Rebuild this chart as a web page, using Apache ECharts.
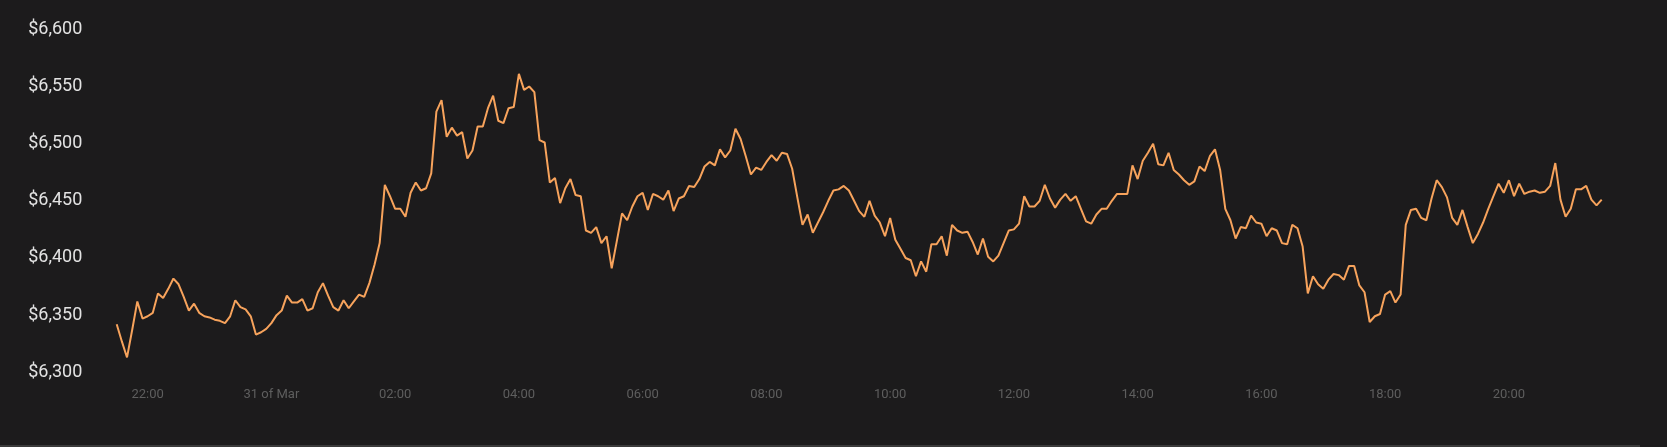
<!DOCTYPE html>
<html>
<head>
<meta charset="utf-8">
<script src="https://cdn.jsdelivr.net/npm/echarts@6/dist/echarts.min.js"></script>
<style>
html,body{margin:0;padding:0;background:#1c1b1c;}
#c{width:1667px;height:447px;}
</style>
</head>
<body>
<div id="c"></div>
<script>
// Start time: 30 Mar 21:30, expressed as hours since 30 Mar 00:00; step 5 minutes
var startHour = 21.5;
var stepMinutes = 5;

var prices = [
6342,6327,6313,6337,6362,6347,6349,6352,6369,6365,
6373,6382,6377,6366,6354,6360,6352,6349,6348,6346,
6345,6343,6349,6363,6357,6355,6349,6333,6335,6338,
6343,6350,6354,6367,6361,6361,6364,6354,6356,6370,
6378,6367,6357,6354,6363,6356,6362,6368,6366,6378,
6394,6413,6464,6454,6443,6443,6436,6457,6466,6459,
6461,6474,6528,6538,6506,6514,6507,6510,6487,6494,
6515,6515,6531,6542,6520,6518,6531,6532,6561,6547,
6550,6545,6503,6501,6466,6470,6448,6461,6469,6455,
6454,6424,6422,6427,6413,6419,6391,6415,6439,6433,
6445,6454,6457,6442,6456,6454,6451,6459,6441,6452,
6454,6463,6462,6469,6480,6484,6481,6495,6488,6494,
6513,6504,6489,6473,6479,6477,6484,6490,6485,6492,
6491,6478,6453,6429,6438,6422,6431,6440,6450,6459,
6460,6463,6459,6450,6441,6436,6450,6437,6431,6419,
6435,6416,6408,6400,6398,6384,6397,6388,6412,6412,
6419,6402,6429,6424,6422,6423,6414,6403,6417,6401,
6397,6402,6413,6424,6425,6430,6454,6445,6445,6450,
6464,6452,6444,6451,6456,6450,6454,6443,6432,6430,
6438,6443,6443,6450,6456,6456,6456,6481,6469,6485,
6492,6500,6482,6481,6492,6477,6473,6468,6464,6467,
6480,6476,6489,6495,6477,6443,6433,6417,6427,6426,
6437,6431,6430,6419,6426,6424,6413,6412,6429,6426,
6410,6369,6384,6377,6373,6381,6386,6385,6381,6393,
6393,6376,6370,6344,6349,6351,6368,6371,6361,6368,
6429,6442,6443,6435,6433,6452,6468,6462,6453,6435,
6429,6442,6427,6413,6421,6431,6443,6454,6465,6457,
6468,6454,6465,6456,6458,6459,6457,6458,6463,6483,
6451,6436,6443,6460,6460,6463,6451,6446,6451
];

var xTickHours = [22, 24, 26, 28, 30, 32, 34, 36, 38, 40, 42, 44];
var xTickLabels = ['22:00', '31 of Mar', '02:00', '04:00', '06:00', '08:00',
                   '10:00', '12:00', '14:00', '16:00', '18:00', '20:00'];
var yTicks = [6300, 6350, 6400, 6450, 6500, 6550, 6600];

var seriesData = prices.map(function (v, i) {
  return [startHour + i * stepMinutes / 60, v];
});
var endHour = startHour + (prices.length - 1) * stepMinutes / 60;

var chart = echarts.init(document.getElementById('c'), null, {renderer: 'canvas'});
chart.setOption({
  backgroundColor: '#1c1b1c',
  animation: false,
  grid: {left: 116.7, right: 65.3, top: 29.3, bottom: 74.7, containLabel: false},
  xAxis: {
    type: 'value',
    min: startHour,
    max: endHour,
    axisLine: {show: false},
    axisTick: {show: false},
    splitLine: {show: false},
    axisLabel: {
      customValues: xTickHours,
      margin: 16,
      color: '#5e5e5e',
      fontFamily: 'Roboto',
      fontSize: 13,
      formatter: function (val) {
        var idx = xTickHours.indexOf(Math.round(val));
        return idx >= 0 ? xTickLabels[idx] : '';
      }
    }
  },
  yAxis: {
    type: 'value',
    min: yTicks[0],
    max: yTicks[yTicks.length - 1],
    interval: 50,
    axisLine: {show: false},
    axisTick: {show: false},
    splitLine: {show: false},
    axisLabel: {
      align: 'left',
      margin: 88.5,
      color: '#e2e2e2',
      fontFamily: 'Roboto',
      fontSize: 18,
      formatter: function (v) {
        return '$' + v.toLocaleString('en-US');
      }
    }
  },
  graphic: [{
    type: 'rect',
    shape: {x: 0, y: 445, width: 1640, height: 2},
    style: {fill: '#3a3a3a'},
    silent: true
  }],
  series: [{
    type: 'line',
    data: seriesData,
    showSymbol: false,
    smooth: false,
    lineStyle: {color: '#f7a35c', width: 2},
    itemStyle: {color: '#f7a35c'}
  }]
});
</script>
</body>
</html>
